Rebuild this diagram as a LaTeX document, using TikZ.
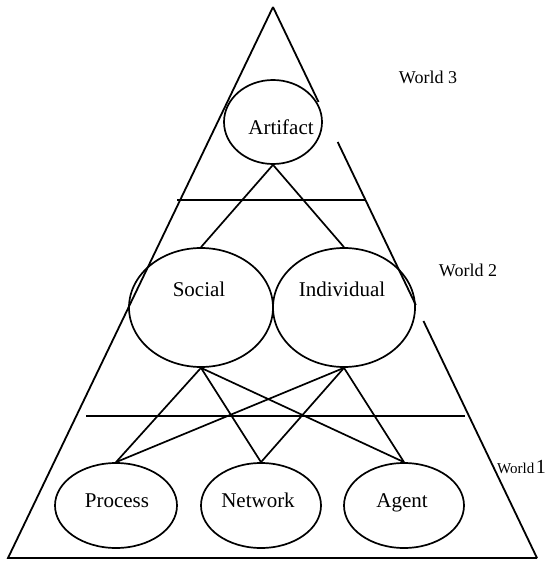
\documentclass[tikz,border=0pt]{standalone}
\usepackage{fontspec}
\setmainfont{Liberation Serif}
\usetikzlibrary{calc, shapes.geometric}

\begin{document}
\begin{tikzpicture}[x=1pt, y=-1pt,
    % ----- Styles -----
    ent/.style={
        ellipse, draw=black, line width=1.7pt, inner sep=0pt
    },
    txt/.style={font=\fontsize{21}{25}\selectfont, inner sep=0pt,
        text height=14pt, text depth=0pt},
    world/.style={font=\fontsize{18}{22}\selectfont, inner sep=0pt},
    edge/.style={line width=1.7pt},
    side/.style={line width=1.8pt}
]

\useasboundingbox (0,0) rectangle (553,561);

% ===================== Dreieck =================================
\coordinate (apex) at (273,7);
\coordinate (bl)   at (8,558);
\coordinate (br)   at (537,558);

% rechte Seite mit zwei Luecken
\coordinate (r1) at ($(apex)!0.1724!(br)$);
\coordinate (r2) at ($(apex)!0.2450!(br)$);
\coordinate (r3) at ($(apex)!0.5408!(br)$);
\coordinate (r4) at ($(apex)!0.5699!(br)$);

\draw[side] (apex) -- (bl) -- (br);
\draw[side] (apex) -- (r1);
\draw[side] (r2) -- (r3);
\draw[side] (r4) -- (br);

% ===================== Trennlinien =============================
\coordinate (h1a) at (177,200);
\coordinate (h1b) at (365,200);
\coordinate (h2a) at (86,416);
\coordinate (h2b) at (465,416);
\draw[side] (h1a) -- (h1b);
\draw[side] (h2a) -- (h2b);

% ===================== Ellipsen ================================
\node[ent, minimum width=98pt, minimum height=84pt,
      label={[txt, xshift=8pt, yshift=-6pt]center:Artifact}] (art) at (273,122) {};

\node[ent, minimum width=144pt, minimum height=119pt,
      label={[txt, xshift=-2pt, yshift=18pt]center:Social}] (soc) at (201,307.5) {};
\node[ent, minimum width=142pt, minimum height=119pt,
      label={[txt, xshift=-2pt, yshift=18pt]center:Individual}] (ind) at (344,307.5) {};

\node[ent, minimum width=122pt, minimum height=85pt,
      label={[txt, xshift=1pt, yshift=5pt]center:Process}] (proc) at (116,505.5) {};
\node[ent, minimum width=120pt, minimum height=85pt,
      label={[txt, xshift=-3pt, yshift=5pt]center:Network}] (net) at (261,505.5) {};
\node[ent, minimum width=120pt, minimum height=85pt,
      label={[txt, xshift=-2pt, yshift=5pt]center:Agent}] (agt) at (404,505.5) {};

% ===================== Verbindungen ============================
\draw[edge] (art.south) -- (soc.north);
\draw[edge] (art.south) -- (ind.north);

\foreach \up in {soc, ind}
    \foreach \dn in {proc, net, agt}
        \draw[edge] (\up.south) -- (\dn.north);

% ===================== Welten ==================================
\node[world] (w3) at (428,77)  {World 3};
\node[world] (w2) at (468,270) {World 2};
\node[inner sep=0pt, anchor=west] (w1) at (497,467)
    {{\fontsize{15}{18}\selectfont World}\,{\fontsize{20}{22}\selectfont 1}};

\end{tikzpicture}
\end{document}
